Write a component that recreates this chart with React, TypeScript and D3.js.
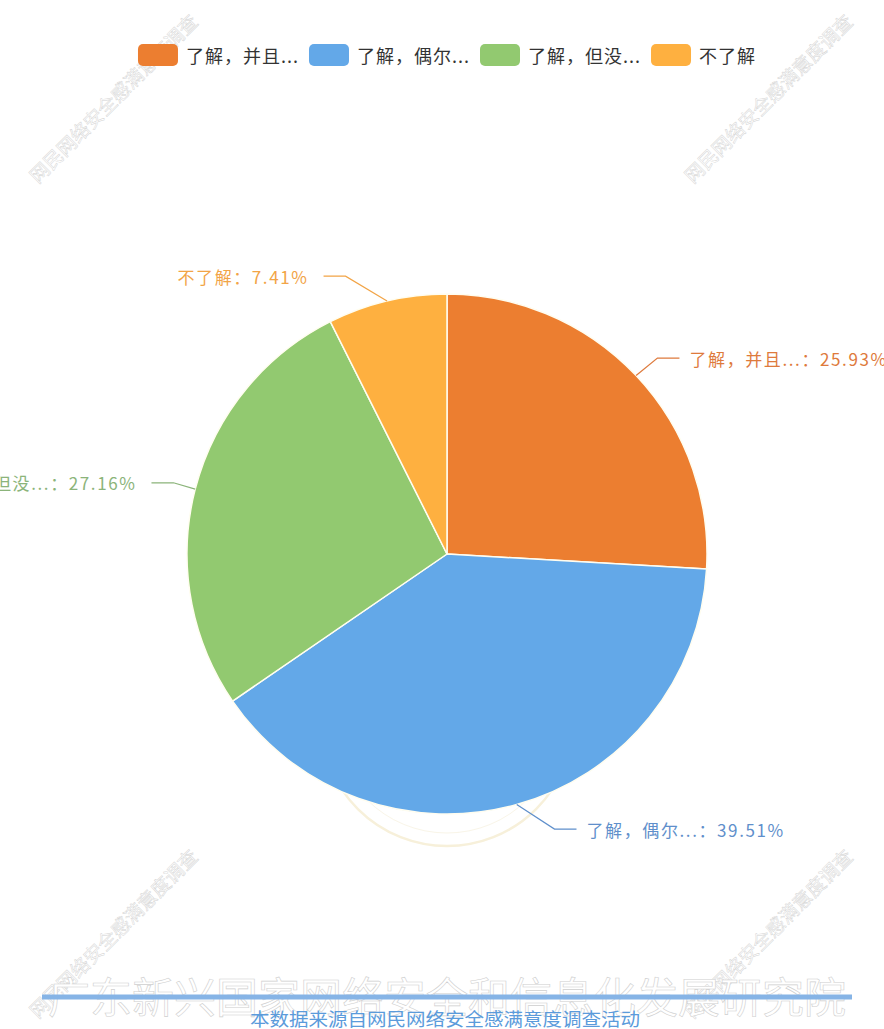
import React from "react";
import * as d3 from "d3";

const categories = ["了解，并且...", "了解，偶尔...", "了解，但没...", "不了解"];
const counts = [21, 32, 22, 6];
const colors = ["#EC7E30", "#63A8E8", "#92C970", "#FEB040"];
const labelColors = ["#DE7A3C", "#5F8FCB", "#8BB47A", "#F2A446"];
const watermarkText = "网民网络安全感满意度调查";
const footerTitle = "广东新兴国家网络安全和信息化发展研究院";
const footerSource = "本数据来源自网民网络安全感满意度调查活动";

const W = 884;
const H = 1029;
const FONT = "'Noto Sans CJK SC', 'Noto Sans', sans-serif";

function measure(text: string, size: number, spacing: number) {
  const c = document.createElement("canvas").getContext("2d");
  if (!c) return text.length * size;
  c.font = `${size}px ${FONT}`;
  return c.measureText(text).width + spacing * text.length;
}

export default function App() {
  const cx = 447;
  const cy = 554;
  const r = 260;
  const total = d3.sum(counts);
  const pie = d3.pie<number>().sort(null).value((d) => d);
  const arcs = pie(counts);
  const arcGen = d3.arc<d3.PieArcDatum<number>>().innerRadius(0).outerRadius(r);

  const rLine = 285.5;
  const rText = 304;
  const len2 = 22;

  const labels = arcs.map((a, i) => {
    const mid = (a.startAngle + a.endAngle) / 2;
    const sx = Math.sin(mid);
    const sy = -Math.cos(mid);
    const dir = sx < 0 ? -1 : 1;
    const ex = cx + r * sx;
    const ey = cy + r * sy;
    const ly = cy + rLine * sy;
    const dy = Math.abs(ly - cy);
    const xEnd = cx + dir * Math.sqrt(rText * rText - dy * dy);
    const xElbow = xEnd - dir * len2;
    const pct = ((counts[i] / total) * 100).toFixed(2);
    return {
      i,
      dir,
      points: [
        [ex, ey],
        [xElbow, ly],
        [xEnd, ly],
      ] as [number, number][],
      tx: xEnd + dir * (dir > 0 ? 10 : 15),
      ty: ly,
      text: `${categories[i]}：${pct}%`,
    };
  });

  // legend layout
  const legendSize = 18;
  const legendSpacing = 1.0;
  const rectW = 40;
  const rectH = 22;
  const widths = categories.map((c) => measure(c, legendSize, legendSpacing));
  const itemW = widths.map((w) => rectW + 8 + w);
  const gap = 10;
  const totalLegend = d3.sum(itemW) + gap * (categories.length - 1);
  let lx = cx - totalLegend / 2;
  const legendItems = categories.map((c, i) => {
    const x = lx;
    lx += itemW[i] + gap;
    return { c, i, x };
  });

  const line = d3.line();

  const watermarks = [
    [115, 100],
    [770, 100],
    [115, 935],
    [770, 935],
  ];

  return (
    <svg
      width={W}
      height={H}
      style={{ position: "absolute", left: 0, top: 0, background: "#fff" }}
      fontFamily={FONT}
    >
      <rect x={0} y={0} width={W} height={H} fill="#fff" />
      {/* watermarks */}
      {watermarks.map(([x, y], k) => (
        <text
          key={k}
          transform={`translate(${x},${y}) rotate(-45)`}
          textAnchor="middle"
          dominantBaseline="middle"
          fontSize={19}
          fill="#fff"
          stroke="#d2d2d2"
          strokeWidth={0.45}
        >
          {watermarkText}
        </text>
      ))}
      {/* faint stamp behind pie */}
      <circle cx={cx} cy={720} r={126} fill="none" stroke="#f7f0da" strokeWidth={2.5} />
      <circle cx={cx} cy={720} r={113} fill="none" stroke="#f9f5e8" strokeWidth={1} />
      {/* pie */}
      <g transform={`translate(${cx},${cy})`}>
        {arcs.map((a, i) => (
          <path
            key={i}
            d={arcGen(a) || ""}
            fill={colors[i]}
            stroke="#fffdf0"
            strokeWidth={1.5}
            strokeLinejoin="round"
          />
        ))}
      </g>
      {labels.map((l) => (
        <g key={l.i}>
          <path
            d={line(l.points) || ""}
            fill="none"
            stroke={labelColors[l.i]}
            strokeWidth={1.2}
          />
          <text
            x={l.tx}
            y={l.ty}
            textAnchor={l.dir > 0 ? "start" : "end"}
            dominantBaseline="central"
            fontSize={17}
            letterSpacing={1.6}
            fill={labelColors[l.i]}
          >
            {l.text}
          </text>
        </g>
      ))}
      {/* legend */}
      {legendItems.map(({ c, i, x }) => (
        <g key={i}>
          <rect x={x} y={44} width={rectW} height={rectH} rx={5} fill={colors[i]} />
          <text
            x={x + rectW + 8}
            y={55}
            dominantBaseline="central"
            fontSize={legendSize}
            letterSpacing={legendSpacing}
            fill="#333"
          >
            {c}
          </text>
        </g>
      ))}
      {/* footer */}
      <text
        x={cx}
        y={1013}
        textAnchor="middle"
        fontSize={42}
        fill="#fff"
        stroke="#cfcfcf"
        strokeWidth={0.6}
      >
        {footerTitle}
      </text>
      <line x1={42} x2={852} y1={997} y2={997} stroke="#86B4E6" strokeWidth={5} />
      <text
        x={cx - 2}
        y={1026}
        textAnchor="middle"
        fontSize={18}
        fill="#5B9BDB"
        textLength={390}
        lengthAdjust="spacingAndGlyphs"
      >
        {footerSource}
      </text>
    </svg>
  );
}
